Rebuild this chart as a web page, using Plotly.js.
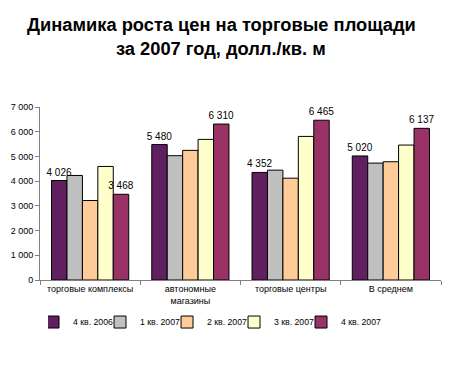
<!DOCTYPE html>
<html><head><meta charset="utf-8">
<script src="https://cdn.plot.ly/plotly-3.0.1.min.js"></script>
<style>body{margin:0;background:#fff}#c{width:469px;height:371px}</style>
</head><body><div id="c"></div>
<script>
const categories = ["торговые комплексы", "автономные<br>магазины", "торговые центры", "В среднем"];
const seriesNames = ["4 кв. 2006", "1 кв. 2007", "2 кв. 2007", "3 кв. 2007", "4 кв. 2007"];
const q4_2006 = [4026, 5480, 4352, 5020];
const q1_2007 = [4230, 5030, 4445, 4730];
const q2_2007 = [3216, 5245, 4120, 4785];
const q3_2007 = [4595, 5690, 5810, 5460];
const q4_2007 = [3468, 6310, 6465, 6137];
const titleLines = ["Динамика роста цен на торговые площади", "за 2007 год, долл./кв. м"];
const colors = ["#602060", "#C0C0C0", "#FFCC99", "#FFFFCC", "#993366"];
const showLabels = [true, false, false, false, true];
const yTicks = [0, 1000, 2000, 3000, 4000, 5000, 6000, 7000];

function fmt(v){ return String(v).replace(/\B(?=(\d{3})+(?!\d))/g, " "); }

const FONT = "Liberation Sans, Arial, sans-serif";
const all = [q4_2006, q1_2007, q2_2007, q3_2007, q4_2007];
const traces = all.map((vals, i) => ({
  type: "bar",
  name: seriesNames[i],
  x: categories,
  y: vals,
  marker: {color: colors[i], line: {color: "#000", width: 1}},
  text: showLabels[i] ? vals.map(fmt) : vals.map(() => ""),
  textposition: "outside",
  constraintext: "none",
  cliponaxis: false,
  textfont: {family: FONT, size: 10, color: "#000"},
  hoverinfo: "none"
}));

const layout = {
  width: 469, height: 371,
  margin: {l: 40, r: 28, t: 107, b: 91, autoexpand: false},
  paper_bgcolor: "#fff", plot_bgcolor: "#fff",
  font: {family: FONT, color: "#000", size: 9},
  annotations: [
    {text: "<b>" + titleLines[0] + "</b>", xref: "paper", yref: "paper", x: 0.452, y: 1 + (107 - 24) / 173,
     xanchor: "center", yanchor: "middle", showarrow: false, font: {size: 18.3, family: FONT, color: "#000"}},
    {text: "<b>" + titleLines[1] + "</b>", xref: "paper", yref: "paper", x: 0.452, y: 1 + (107 - 48) / 173,
     xanchor: "center", yanchor: "middle", showarrow: false, font: {size: 18.3, family: FONT, color: "#000"}}
  ],
  barmode: "group",
  bargap: 0.23, bargroupgap: 0,
  showlegend: true,
  legend: {
    orientation: "h", x: 0.02, xanchor: "left", y: -0.243, yanchor: "middle",
    font: {size: 8.7}, itemwidth: 30, indentation: -15, entrywidth: 37, entrywidthmode: "pixels"
  },
  xaxis: {
    type: "category",
    showline: true, linecolor: "#808080", linewidth: 1,
    ticks: "outside", tickson: "boundaries", ticklen: 4, tickcolor: "#808080",
    showgrid: false, zeroline: false, tickangle: 0,
    tickfont: {size: 9}
  },
  yaxis: {
    range: [0, 7000],
    tickvals: yTicks, ticktext: yTicks.map(fmt),
    showline: true, linecolor: "#808080", linewidth: 1,
    ticks: "outside", ticklen: 4, tickcolor: "#808080",
    showgrid: false, zeroline: false,
    tickfont: {size: 9}
  }
};

Plotly.newPlot("c", traces, layout, {displayModeBar: false, staticPlot: true});
</script>
</body></html>
